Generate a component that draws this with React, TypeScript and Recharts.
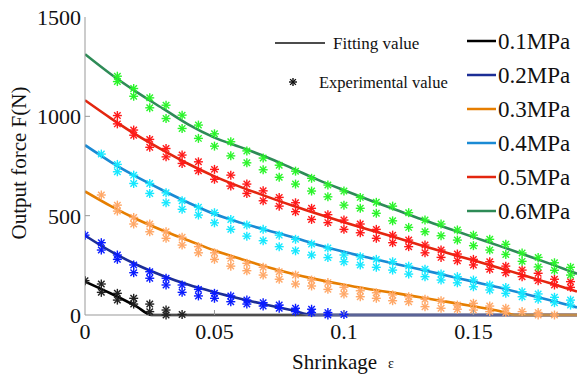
import React from 'react';
import { ComposedChart, Line, Scatter, XAxis, YAxis } from 'recharts';

const FONT = "'Liberation Serif', 'DejaVu Serif', serif";
const txt = (size: number) => ({ fontFamily: FONT, fontSize: size, fill: '#111' });

// fitted curves
const fit01X = [0, 0.01, 0.02, 0.0257, 0.19];
const fit01Y = [168, 108, 42, 0, 0];
const fit02X = [0, 0.01, 0.02, 0.03, 0.04, 0.05, 0.06, 0.07, 0.08, 0.088, 0.19];
const fit02Y = [400, 320, 253, 198, 152, 115, 82, 52, 24, 0, 0];
const fit03X = [0, 0.01, 0.02, 0.03, 0.04, 0.05, 0.06, 0.07, 0.08, 0.09, 0.1, 0.11, 0.12, 0.13, 0.14, 0.15, 0.16, 0.166, 0.19];
const fit03Y = [622, 548, 482, 425, 375, 325, 283, 243, 208, 178, 152, 130, 110, 88, 66, 44, 20, 0, 0];
const fitX = [0, 0.01, 0.02, 0.03, 0.04, 0.05, 0.06, 0.07, 0.08, 0.09, 0.1, 0.11, 0.12, 0.13, 0.14, 0.15, 0.16, 0.17, 0.18, 0.19];
const fit04Y = [855, 770, 695, 628, 565, 508, 465, 428, 392, 352, 318, 287, 257, 228, 198, 168, 138, 106, 73, 38];
const fit05Y = [1081, 990, 905, 830, 760, 698, 645, 597, 551, 508, 467, 428, 390, 350, 312, 275, 237, 198, 158, 118];
const fit06Y = [1313, 1212, 1122, 1040, 958, 893, 845, 795, 738, 680, 628, 578, 530, 482, 437, 392, 348, 302, 256, 208];

// experimental points, two runs per pressure
const expX = [0, 0.0063, 0.0125, 0.0188, 0.025, 0.0313, 0.0375, 0.0438, 0.05, 0.0563, 0.0625, 0.0688, 0.075, 0.0813, 0.0875, 0.0938, 0.1, 0.1063, 0.1125, 0.1188, 0.125, 0.1313, 0.1375, 0.1438, 0.15, 0.1563, 0.1625, 0.1688, 0.175, 0.1813, 0.1875];
const exp01a = [173, 156, 109, 84, 55, 25, 3];
const exp01b = [null, 114, 75, 55, 17, 0];
const exp02a = [402, 364, 302, 252, 218, 185, 151, 129, 109, 96, 75, 62, 50, 34, 29, 12, 3];
const exp02b = [null, 327, 280, 213, 185, 151, 114, 96, 84, 67, 55, 45, 34, 17, 12, 0];
const exp03a = [null, 604, 553, 491, 458, 419, 391, 344, 313, 285, 260, 240, 218, 201, 176, 163, 139, 122, 112, 101, 92, 79, 72, 50, 59, 45, 34, 17, 12, 0];
const exp03b = [null, null, 523, 458, 419, 386, 352, 313, 280, 246, 223, 201, 180, 156, 146, 129, 106, 92, 84, 72, 67, 42, 34, 29, 25, 17, 12, null, 0];
const exp04a = [null, 810, 758, 704, 662, 615, 575, 542, 515, 481, 453, 431, 402, 381, 357, 337, 302, 293, 280, 268, 246, 230, 206, 193, 176, 151, 139, 117, 106, 89, 75];
const exp04b = [null, null, 721, 662, 612, 565, 532, 503, 464, 431, 397, 374, 344, 323, 302, 289, 268, 252, 240, 226, 206, 193, 176, 162, 142, 126, 109, 92, 79, 62, 50];
const exp05a = [null, null, 1004, 931, 884, 838, 805, 771, 733, 704, 659, 625, 592, 565, 537, 505, 478, 458, 431, 402, 377, 352, 327, 307, 280, 268, 246, 226, 210, 180, 168];
const exp05b = [null, null, 962, 905, 844, 796, 763, 726, 683, 649, 612, 575, 548, 520, 481, 465, 431, 414, 386, 364, 344, 313, 290, 273, 252, 230, 213, 193, 173, 151, 139];
const exp06a = [null, null, 1202, 1140, 1093, 1056, 1006, 956, 912, 872, 826, 790, 754, 724, 688, 654, 624, 592, 567, 548, 515, 478, 458, 428, 402, 381, 356, 312, 290, 263, 240];
const exp06b = [null, null, 1175, 1101, 1043, 989, 939, 889, 850, 801, 766, 731, 693, 659, 624, 595, 553, 537, 512, 474, 441, 419, 399, 377, 349, 327, 305, 270, 242, 225, 201];

const xTicks = [0, 0.05, 0.1, 0.15];
const yTicks = [0, 500, 1000, 1500];
const pressures = ['0.1MPa', '0.2MPa', '0.3MPa', '0.4MPa', '0.5MPa', '0.6MPa'];
const fitColors = ['#000000', '#1c2e96', '#e67e00', '#1a8ad4', '#e3260f', '#2e8b57'];
const expColors = ['#222222', '#0a1cff', '#ffa868', '#16e8ff', '#ff1a1a', '#2af52a'];

const toLine = (xs: number[], ys: number[]) => xs.map((x, i) => ({ x, y: ys[i] }));
const toPoints = (...runs: (number | null)[][]) => {
  const pts: { x: number; y: number }[] = [];
  runs.forEach(run => run.forEach((v, i) => { if (v != null) pts.push({ x: expX[i], y: v }); }));
  return pts;
};

const fits = [
  toLine(fit01X, fit01Y),
  toLine(fit02X, fit02Y),
  toLine(fit03X, fit03Y),
  toLine(fitX, fit04Y),
  toLine(fitX, fit05Y),
  toLine(fitX, fit06Y),
];
const exps = [
  toPoints(exp01a, exp01b),
  toPoints(exp02a, exp02b),
  toPoints(exp03a, exp03b),
  toPoints(exp04a, exp04b),
  toPoints(exp05a, exp05b),
  toPoints(exp06a, exp06b),
];

const Star = ({ cx, cy, color, r = 4.5 }: any) => {
  if (cx == null || cy == null) return null;
  const d = r * 0.72;
  return (
    <g stroke={color} strokeWidth={1.4}>
      <line x1={cx - r} y1={cy} x2={cx + r} y2={cy} />
      <line x1={cx} y1={cy - r} x2={cx} y2={cy + r} />
      <line x1={cx - d} y1={cy - d} x2={cx + d} y2={cy + d} />
      <line x1={cx - d} y1={cy + d} x2={cx + d} y2={cy - d} />
    </g>
  );
};

const XTick = ({ x, y, payload }: any) => (
  <g>
    {payload.value !== 0 && <line x1={x} y1={y} x2={x} y2={y - 5} stroke="#999" />}
    <text x={x} y={y + 24} textAnchor="middle" style={txt(22)}>
      {payload.value}
    </text>
  </g>
);

const TopTick = ({ x, y, payload }: any) =>
  payload.value !== 0 ? <line x1={x} y1={y} x2={x} y2={y + 5} stroke="#999" /> : null;

const YTick = ({ x, y, payload }: any) => (
  <g>
    {payload.value !== 0 && payload.value !== 1500 && <line x1={x} y1={y} x2={x + 5} y2={y} stroke="#999" />}
    <text x={x - 4} y={y + 8} textAnchor="end" style={txt(22)}>
      {payload.value}
    </text>
  </g>
);

export default function App() {
  return (
    <div style={{ position: 'absolute', left: 0, top: 0, width: 577, height: 376, background: '#fff', overflow: 'hidden' }}>
      <ComposedChart width={577} height={376} margin={{ top: 17, right: 0, bottom: 0, left: 0 }}>
        <XAxis
          dataKey="x"
          type="number"
          domain={[0, 0.19]}
          ticks={xTicks}
          allowDataOverflow
          height={61}
          stroke="#999"
          tickLine={false}
          tickSize={0}
          tickMargin={0}
          tick={<XTick />}
        />
        <XAxis
          xAxisId="top"
          orientation="top"
          dataKey="x"
          type="number"
          domain={[0, 0.19]}
          ticks={xTicks}
          height={0}
          stroke="#999"
          tickLine={false}
          tickSize={0}
          tickMargin={0}
          tick={<TopTick />}
        />
        <YAxis
          dataKey="y"
          type="number"
          domain={[0, 1500]}
          ticks={yTicks}
          width={85}
          stroke="#999"
          tickLine={false}
          tickSize={0}
          tickMargin={0}
          tick={<YTick />}
        />
        {exps.map((pts, i) => (
          <Scatter
            key={'e' + i}
            data={pts}
            isAnimationActive={false}
            shape={(p: any) => <Star cx={p.cx} cy={p.cy} color={expColors[i]} />}
          />
        ))}
        {fits.map((pts, i) => (
          <Line
            key={'f' + i}
            data={pts}
            dataKey="y"
            type="monotone"
            stroke={fitColors[i]}
            strokeWidth={2.6}
            dot={false}
            activeDot={false}
            isAnimationActive={false}
          />
        ))}
      </ComposedChart>
      <svg width={577} height={376} style={{ position: 'absolute', left: 0, top: 0, pointerEvents: 'none' }}>
        <text transform="translate(26,163) rotate(-90)" textAnchor="middle" style={txt(21)}>
          Output force F(N)
        </text>
        <text x={292} y={369} style={txt(21)}>Shrinkage</text>
        <text x={388} y={368} style={txt(14)}>ε</text>
        <line x1={275} y1={43} x2={325} y2={43} stroke="#111" strokeWidth={1.6} />
        <text x={333} y={49} style={txt(17)}>Fitting value</text>
        <Star cx={293} cy={82} color="#111" r={4} />
        <text x={319} y={88} style={txt(16.5)}>Experimental value</text>
        {pressures.map((p, i) => (
          <g key={p}>
            <line x1={467} y1={41 + i * 34} x2={496} y2={41 + i * 34} stroke={fitColors[i]} strokeWidth={2.5} />
            <text x={498} y={49 + i * 34} style={txt(23)}>{p}</text>
          </g>
        ))}
      </svg>
    </div>
  );
}
